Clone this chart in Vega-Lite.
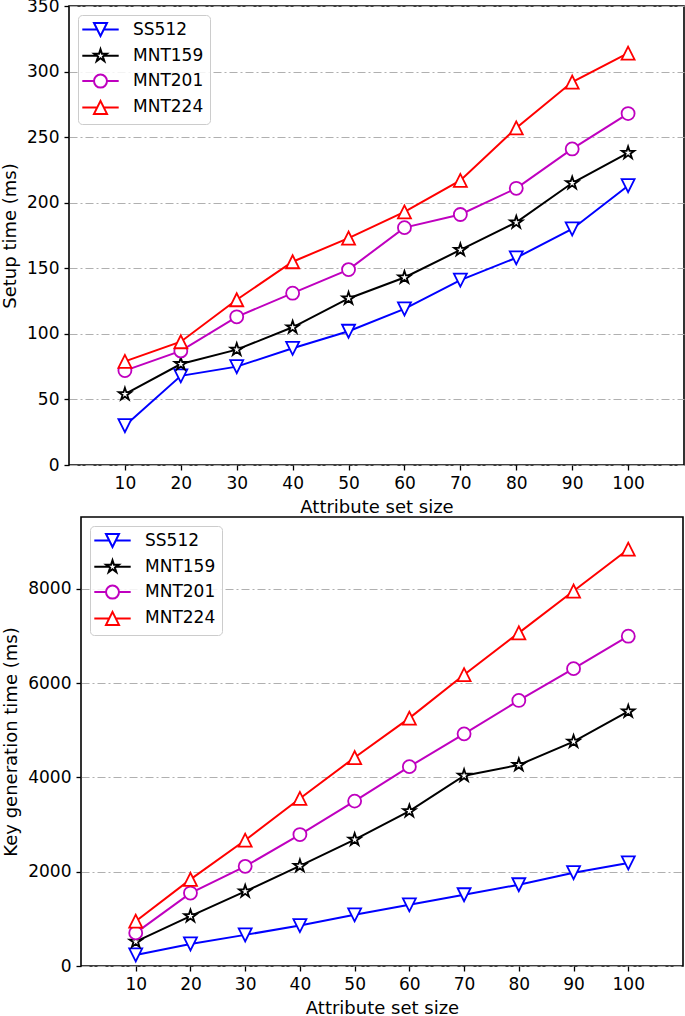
{
  "$schema": "https://vega.github.io/schema/vega-lite/v6.json",
  "padding": {"left": 0, "top": -4, "right": 0, "bottom": 0},
  "background": "white",
  "datasets": {
    "setup": [
      {"size": 10, "scheme": "SS512", "time": 30}, {"size": 20, "scheme": "SS512", "time": 68}, {"size": 30, "scheme": "SS512", "time": 75}, {"size": 40, "scheme": "SS512", "time": 89}, {"size": 50, "scheme": "SS512", "time": 102}, {"size": 60, "scheme": "SS512", "time": 119}, {"size": 70, "scheme": "SS512", "time": 141}, {"size": 80, "scheme": "SS512", "time": 158}, {"size": 90, "scheme": "SS512", "time": 180}, {"size": 100, "scheme": "SS512", "time": 213},
      {"size": 10, "scheme": "MNT159", "time": 54}, {"size": 20, "scheme": "MNT159", "time": 77}, {"size": 30, "scheme": "MNT159", "time": 88}, {"size": 40, "scheme": "MNT159", "time": 105}, {"size": 50, "scheme": "MNT159", "time": 127}, {"size": 60, "scheme": "MNT159", "time": 143}, {"size": 70, "scheme": "MNT159", "time": 164}, {"size": 80, "scheme": "MNT159", "time": 185}, {"size": 90, "scheme": "MNT159", "time": 215}, {"size": 100, "scheme": "MNT159", "time": 238},
      {"size": 10, "scheme": "MNT201", "time": 72}, {"size": 20, "scheme": "MNT201", "time": 87}, {"size": 30, "scheme": "MNT201", "time": 113}, {"size": 40, "scheme": "MNT201", "time": 131}, {"size": 50, "scheme": "MNT201", "time": 149}, {"size": 60, "scheme": "MNT201", "time": 181}, {"size": 70, "scheme": "MNT201", "time": 191}, {"size": 80, "scheme": "MNT201", "time": 211}, {"size": 90, "scheme": "MNT201", "time": 241}, {"size": 100, "scheme": "MNT201", "time": 268},
      {"size": 10, "scheme": "MNT224", "time": 79}, {"size": 20, "scheme": "MNT224", "time": 94}, {"size": 30, "scheme": "MNT224", "time": 126}, {"size": 40, "scheme": "MNT224", "time": 155}, {"size": 50, "scheme": "MNT224", "time": 173}, {"size": 60, "scheme": "MNT224", "time": 193}, {"size": 70, "scheme": "MNT224", "time": 217}, {"size": 80, "scheme": "MNT224", "time": 257}, {"size": 90, "scheme": "MNT224", "time": 292}, {"size": 100, "scheme": "MNT224", "time": 314}
    ],
    "keygen": [
      {"size": 10, "scheme": "SS512", "time": 234}, {"size": 20, "scheme": "SS512", "time": 468}, {"size": 30, "scheme": "SS512", "time": 660}, {"size": 40, "scheme": "SS512", "time": 858}, {"size": 50, "scheme": "SS512", "time": 1085}, {"size": 60, "scheme": "SS512", "time": 1298}, {"size": 70, "scheme": "SS512", "time": 1511}, {"size": 80, "scheme": "SS512", "time": 1723}, {"size": 90, "scheme": "SS512", "time": 1979}, {"size": 100, "scheme": "SS512", "time": 2185},
      {"size": 10, "scheme": "MNT159", "time": 517}, {"size": 20, "scheme": "MNT159", "time": 1057}, {"size": 30, "scheme": "MNT159", "time": 1582}, {"size": 40, "scheme": "MNT159", "time": 2121}, {"size": 50, "scheme": "MNT159", "time": 2681}, {"size": 60, "scheme": "MNT159", "time": 3284}, {"size": 70, "scheme": "MNT159", "time": 4035}, {"size": 80, "scheme": "MNT159", "time": 4262}, {"size": 90, "scheme": "MNT159", "time": 4759}, {"size": 100, "scheme": "MNT159", "time": 5397},
      {"size": 10, "scheme": "MNT201", "time": 702}, {"size": 20, "scheme": "MNT201", "time": 1546}, {"size": 30, "scheme": "MNT201", "time": 2113}, {"size": 40, "scheme": "MNT201", "time": 2787}, {"size": 50, "scheme": "MNT201", "time": 3496}, {"size": 60, "scheme": "MNT201", "time": 4227}, {"size": 70, "scheme": "MNT201", "time": 4922}, {"size": 80, "scheme": "MNT201", "time": 5631}, {"size": 90, "scheme": "MNT201", "time": 6305}, {"size": 100, "scheme": "MNT201", "time": 6993},
      {"size": 10, "scheme": "MNT224", "time": 950}, {"size": 20, "scheme": "MNT224", "time": 1837}, {"size": 30, "scheme": "MNT224", "time": 2667}, {"size": 40, "scheme": "MNT224", "time": 3553}, {"size": 50, "scheme": "MNT224", "time": 4420}, {"size": 60, "scheme": "MNT224", "time": 5255}, {"size": 70, "scheme": "MNT224", "time": 6177}, {"size": 80, "scheme": "MNT224", "time": 7064}, {"size": 90, "scheme": "MNT224", "time": 7950}, {"size": 100, "scheme": "MNT224", "time": 8837}
    ]
  },
  "config": {
    "font": "DejaVu Sans",
    "view": {"stroke": "black", "strokeWidth": 1.6},
    "axis": {"labelFont": "DejaVu Sans", "labelFontSize": 17, "labelColor": "black", "titleFont": "DejaVu Sans", "titleFontSize": 18, "titleFontWeight": "normal", "titleColor": "black", "tickColor": "black", "tickSize": 5, "tickWidth": 1.3, "domain": false, "labelPadding": 5, "grid": false},
    "axisY": {"grid": true, "gridColor": "#b0b0b0", "gridDash": [8, 3, 2, 3], "gridWidth": 1.2, "titlePadding": 7},
    "axisX": {"titlePadding": 7},
    "legend": {
      "orient": "none", "legendX": 9, "legendY": 9,
      "fillColor": "rgba(255,255,255,0.85)", "strokeColor": "#cccccc", "cornerRadius": 4, "padding": 6,
      "labelFont": "DejaVu Sans", "labelFontSize": 17, "labelColor": "black",
      "symbolSize": 169, "symbolStrokeWidth": 2, "symbolFillColor": "white", "symbolOpacity": 1, "symbolOffset": 8, "labelOffset": 24, "rowPadding": 5.3
    }
  },
  "vconcat": [
    {
      "width": 615, "height": 459,
      "data": {"name": "setup"},
      "encoding": {
        "x": {"field": "size", "type": "quantitative", "scale": {"domain": [0, 110], "nice": false}, "axis": {"values": [10, 20, 30, 40, 50, 60, 70, 80, 90, 100], "title": "Attribute set size"}},
        "y": {"field": "time", "type": "quantitative", "scale": {"domain": [0, 350], "nice": false}, "axis": {"values": [0, 50, 100, 150, 200, 250, 300, 350], "title": "Setup time (ms)"}}
      },
      "layer": [
        {"mark": {"type": "line", "strokeWidth": 2},
          "encoding": {"color": {"field": "scheme", "type": "nominal", "legend": null, "scale": {"domain": ["SS512", "MNT159", "MNT201", "MNT224"], "range": ["#0000ff", "#000000", "#bf00bf", "#ff0000"]}}}},
        {"mark": {"type": "point", "filled": false, "fill": "white", "fillOpacity": 1, "opacity": 1, "strokeWidth": 1.8, "size": 169},
          "encoding": {
            "color": {"field": "scheme", "type": "nominal", "legend": null, "scale": {"domain": ["SS512", "MNT159", "MNT201", "MNT224"], "range": ["#0000ff", "#000000", "#bf00bf", "#ff0000"]}},
            "shape": {"field": "scheme", "type": "nominal", "legend": null, "scale": {"domain": ["SS512", "MNT159", "MNT201", "MNT224"], "range": ["M0,1L-1,-1L1,-1Z", "M0,-1L0.2245,-0.309L0.951,-0.309L0.3633,0.118L0.588,0.809L0,0.382L-0.588,0.809L-0.3633,0.118L-0.951,-0.309L-0.2245,-0.309Z", "circle", "M0,-1L-1,1L1,1Z"]}}}},
        {"transform": [{"filter": "datum.time < 0"}],
          "mark": {"type": "point", "filled": false, "fill": "white", "fillOpacity": 1, "opacity": 1, "strokeWidth": 2, "size": 169},
          "encoding": {
            "color": {"field": "scheme", "type": "nominal", "legend": {"title": null}, "scale": {"domain": ["SS512", "MNT159", "MNT201", "MNT224"], "range": ["#0000ff", "#000000", "#bf00bf", "#ff0000"]}},
            "shape": {"field": "scheme", "type": "nominal", "legend": {"title": null}, "scale": {"domain": ["SS512", "MNT159", "MNT201", "MNT224"], "range": ["M-2.8,0H-0.5M0.5,0H2.8M0,1L-1,-1L1,-1Z", "M-2.8,0H-0.52M0.52,0H2.8M0,-1L0.2245,-0.309L0.951,-0.309L0.3633,0.118L0.588,0.809L0,0.382L-0.588,0.809L-0.3633,0.118L-0.951,-0.309L-0.2245,-0.309Z", "M-2.8,0H-1M1,0H2.8M1,0A1,1,0,1,1,-1,0A1,1,0,1,1,1,0Z", "M-2.8,0H-0.5M0.5,0H2.8M0,-1L-1,1L1,1Z"]}}}}
      ],
      "resolve": {"scale": {"color": "independent", "shape": "independent"}}
    },
    {"hconcat": [
      {
        "width": 1, "height": 449,
        "data": {"name": "keygen"},
        "transform": [{"filter": "datum.time < 0"}],
        "view": {"stroke": null},
        "mark": {"type": "point", "opacity": 0},
        "encoding": {
          "x": {"field": "size", "type": "quantitative", "axis": null},
          "y": {"field": "time", "type": "quantitative", "axis": null}
        }
      },
      {
        "width": 602, "height": 449,
        "data": {"name": "keygen"},
        "encoding": {
          "x": {"field": "size", "type": "quantitative", "scale": {"domain": [0, 110], "nice": false}, "axis": {"values": [10, 20, 30, 40, 50, 60, 70, 80, 90, 100], "title": "Attribute set size"}},
          "y": {"field": "time", "type": "quantitative", "scale": {"domain": [0, 9520], "nice": false}, "axis": {"values": [0, 2000, 4000, 6000, 8000], "format": "d", "title": "Key generation time (ms)"}}
        },
        "layer": [
          {"mark": {"type": "line", "strokeWidth": 2},
            "encoding": {"color": {"field": "scheme", "type": "nominal", "legend": null, "scale": {"domain": ["SS512", "MNT159", "MNT201", "MNT224"], "range": ["#0000ff", "#000000", "#bf00bf", "#ff0000"]}}}},
          {"mark": {"type": "point", "filled": false, "fill": "white", "fillOpacity": 1, "opacity": 1, "strokeWidth": 1.8, "size": 169},
            "encoding": {
              "color": {"field": "scheme", "type": "nominal", "legend": null, "scale": {"domain": ["SS512", "MNT159", "MNT201", "MNT224"], "range": ["#0000ff", "#000000", "#bf00bf", "#ff0000"]}},
              "shape": {"field": "scheme", "type": "nominal", "legend": null, "scale": {"domain": ["SS512", "MNT159", "MNT201", "MNT224"], "range": ["M0,1L-1,-1L1,-1Z", "M0,-1L0.2245,-0.309L0.951,-0.309L0.3633,0.118L0.588,0.809L0,0.382L-0.588,0.809L-0.3633,0.118L-0.951,-0.309L-0.2245,-0.309Z", "circle", "M0,-1L-1,1L1,1Z"]}}}},
          {"transform": [{"filter": "datum.time < 0"}],
            "mark": {"type": "point", "filled": false, "fill": "white", "fillOpacity": 1, "opacity": 1, "strokeWidth": 2, "size": 169},
            "encoding": {
              "color": {"field": "scheme", "type": "nominal", "legend": {"title": null}, "scale": {"domain": ["SS512", "MNT159", "MNT201", "MNT224"], "range": ["#0000ff", "#000000", "#bf00bf", "#ff0000"]}},
              "shape": {"field": "scheme", "type": "nominal", "legend": {"title": null}, "scale": {"domain": ["SS512", "MNT159", "MNT201", "MNT224"], "range": ["M-2.8,0H-0.5M0.5,0H2.8M0,1L-1,-1L1,-1Z", "M-2.8,0H-0.52M0.52,0H2.8M0,-1L0.2245,-0.309L0.951,-0.309L0.3633,0.118L0.588,0.809L0,0.382L-0.588,0.809L-0.3633,0.118L-0.951,-0.309L-0.2245,-0.309Z", "M-2.8,0H-1M1,0H2.8M1,0A1,1,0,1,1,-1,0A1,1,0,1,1,1,0Z", "M-2.8,0H-0.5M0.5,0H2.8M0,-1L-1,1L1,1Z"]}}}}
        ],
        "resolve": {"scale": {"color": "independent", "shape": "independent"}}
      }
    ], "spacing": -69}
  ],
  "spacing": -5,
  "resolve": {"scale": {"color": "independent", "shape": "independent"}, "legend": {"color": "independent", "shape": "independent"}}
}
